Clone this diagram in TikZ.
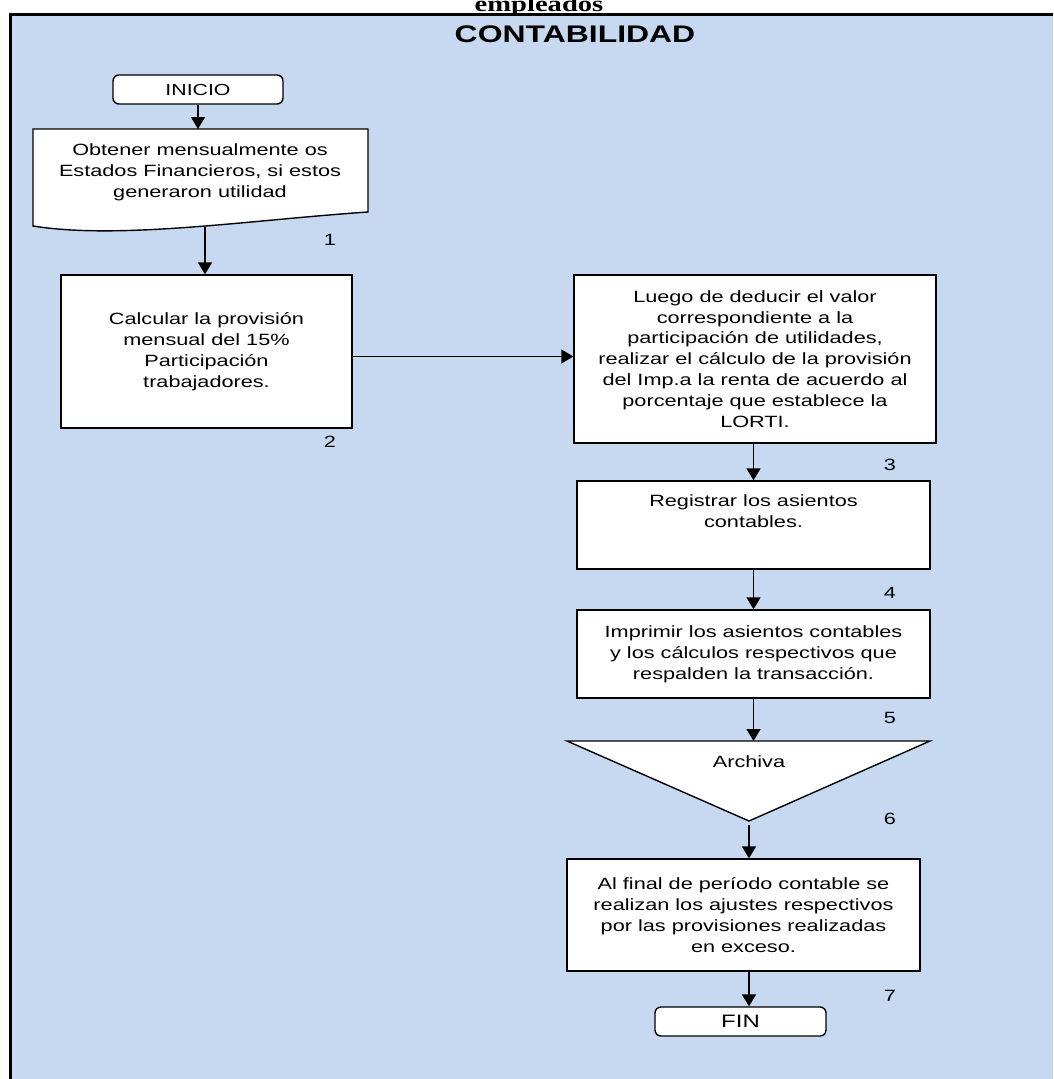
\documentclass[tikz,border=0pt]{standalone}
\usepackage{fontspec}
\setmainfont{Liberation Sans}[FakeStretch=1.33]
\newfontfamily\titleserif{Liberation Serif}[FakeStretch=1.3]
\usetikzlibrary{arrows.meta}
\definecolor{panel}{HTML}{C6D9F1}
\begin{document}
\begin{tikzpicture}[x=1pt,y=-1pt,
  box/.style={draw=black, fill=white, line width=1.4pt, align=center, font=\fontsize{16.3}{20.9}\selectfont, inner sep=0pt},
  term/.style={box, rounded corners=6pt},
  num/.style={font=\fontsize{16.3}{19}\selectfont, inner sep=0pt},
  arr/.style={line width=1.4pt, -{Triangle[length=12pt,width=14pt]}},
  lbl/.style={font=\fontsize{16.3}{20.9}\selectfont, align=center, inner sep=0pt}
]
\useasboundingbox (0,0) rectangle (1053,1079);
\clip (0,0) rectangle (1053,1079);
\fill[panel] (10.5,14) rectangle (1053,1079);
\draw[line width=3pt] (10.5,1079) -- (10.5,14) -- (1053,14);

\node[anchor=base, font=\titleserif\bfseries\fontsize{22}{26}\selectfont, inner sep=0pt] (toptitle) at (539,11) {empleados};
\node[anchor=base, font=\bfseries\fontsize{24}{28}\selectfont, inner sep=0pt] (title) at (575,42) {CONTABILIDAD};

% INICIO
\node[term, minimum width=170pt, minimum height=29pt, font=\fontsize{16}{18}\selectfont] (inicio) at (198,89.5) {INICIO};

% document shape
\draw[fill=white, line width=1.4pt] (33,129) -- (368,129) -- (368,212) .. controls (250,220) and (120,240) .. (33,226) -- cycle;
\coordinate (doct) at (198,129);
\coordinate (docb) at (205,227);
\node[lbl] (doc) at (200,172) {Obtener mensualmente os\\Estados Financieros, si estos\\generaron utilidad};

% boxes
\node[box, minimum width=291pt, minimum height=153pt] (b2) at (206.5,351.5) {Calcular la provisión\\mensual del 15\%\\Participación\\trabajadores.};
\node[box, minimum width=362pt, minimum height=168pt] (b3) at (755,359) {Luego de deducir el valor\\correspondiente a la\\participación de utilidades,\\realizar el cálculo de la provisión\\del Imp.a la renta de acuerdo al\\porcentaje que establece la\\LORTI.};
\node[box, minimum width=353pt, minimum height=88pt] (b4) at (753.5,525) {Registrar los asientos\\contables.\\\strut};
\node[box, minimum width=353pt, minimum height=88pt] (b5) at (753.5,654) {Imprimir los asientos contables\\y los cálculos respectivos que\\respalden la transacción.};

% triangle
\coordinate (tl) at (567,741);
\coordinate (tr) at (930,741);
\coordinate (trib) at (749,821);
\draw[fill=white, line width=1.4pt] (tl) -- (tr) -- (trib) -- cycle;
\node[lbl] (arch) at (749,762) {Archiva};

\node[box, minimum width=353pt, minimum height=112pt] (b7) at (743.5,915) {Al final de período contable se\\realizan los ajustes respectivos\\por las provisiones realizadas\\en exceso.};
\node[term, minimum width=171pt, minimum height=29pt, font=\fontsize{18}{20}\selectfont] (fin) at (740.5,1021.5) {FIN};

% numbers
\node[num] (n1) at (330,240) {1};
\node[num] (n2) at (330,442) {2};
\node[num] (n3) at (890,465) {3};
\node[num] (n4) at (890,593) {4};
\node[num] (n5) at (890,718) {5};
\node[num] (n6) at (890,819) {6};
\node[num] (n7) at (890,996) {7};

% connectors
\draw[arr] (inicio.south) -- (doct);
\draw[arr] (docb) -- (docb |- b2.north);
\draw[arr] ([yshift=-5pt]b2.east) -- ([yshift=-5pt]b2.east -| b3.west);
\draw[arr] (b3.south -| b4.north) -- (b4.north);
\draw[arr] (b4.south) -- (b5.north);
\draw[arr] (b5.south) -- (b5.south |- tl);
\draw[arr, shorten <=4pt] (trib) -- (trib |- b7.north);
\draw[arr] (trib |- b7.south) -- (trib |- fin.north);
\end{tikzpicture}
\end{document}
